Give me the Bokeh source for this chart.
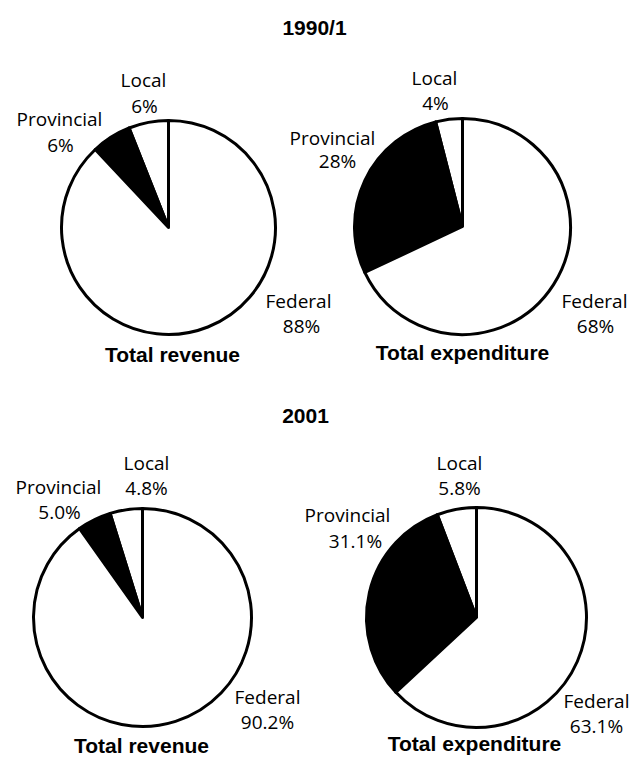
import math
from bokeh.plotting import figure
from bokeh.models import Range1d, ColumnDataSource
from bokeh.core.properties import value
from bokeh.embed import file_html
from bokeh.resources import INLINE

# ---- data ----
years = ["1990/1", "2001"]
measures = ["Total revenue", "Total expenditure"]
levels = ["Local", "Provincial", "Federal"]
rev_1990 = [6, 6, 88]
exp_1990 = [4, 28, 68]
rev_2001 = [4.8, 5.0, 90.2]
exp_2001 = [5.8, 31.1, 63.1]
decimals = [0, 1]          # label precision per year
fills = ["white", "black", "white"]

W, H = 634, 758
TXT_SHIFT = 8              # text renders slightly low; lift anchors
def Y(page_y):             # page pixel row -> data y (y up)
    return H - page_y
def YT(page_y):
    return H - (page_y - TXT_SHIFT)

p = figure(width=W, height=H, x_range=Range1d(0, W), y_range=Range1d(0, H),
           x_axis_type=None, y_axis_type=None, toolbar_location=None,
           output_backend="svg", min_border=0)
p.grid.visible = False
p.outline_line_color = None
p.background_fill_color = "white"

# layout: pie centre, radius, label anchors (name baseline, pct baseline), title
panels = [
    dict(vals=rev_1990, yi=0, mi=0, c=(168, 227), r=107,
         lab=[((143, 87), (144, 113)), ((59, 126), (60, 152)), ((298, 308), (301, 333))],
         t=(172, 362)),
    dict(vals=exp_1990, yi=0, mi=1, c=(462, 226), r=108,
         lab=[((434, 85), (435, 110)), ((332, 145), (337, 168)), ((594, 308), (595, 333))],
         t=(462, 360)),
    dict(vals=rev_2001, yi=1, mi=0, c=(142, 617), r=109,
         lab=[((146, 470), (146, 495)), ((58, 494), (59, 519)), ((267, 704), (267, 729))],
         t=(141, 753)),
    dict(vals=exp_2001, yi=1, mi=1, c=(476, 617), r=110,
         lab=[((459, 470), (459, 495)), ((347, 522), (355, 548)), ((596, 708), (596, 733))],
         t=(474, 751)),
]
headers = [(314, 35), (305, 423)]

label_font = value("Open Sans")
bold_font = value("Liberation Sans")

for pn in panels:
    vals = pn["vals"]
    total = sum(vals)
    cx, cy = pn["c"]
    starts, ends = [], []
    a = math.pi / 2
    for v in vals:
        starts.append(a)
        a = a + 2 * math.pi * v / total
        ends.append(a)
    src = ColumnDataSource(dict(x=[cx] * 3, y=[Y(cy)] * 3, start=starts, end=ends,
                                fill=fills, name=levels))
    p.wedge(x="x", y="y", radius=pn["r"], start_angle="start", end_angle="end",
            fill_color="fill", line_color="black", line_width=3, line_join="round",
            direction="anticlock", source=src)
    # labels
    d = decimals[pn["yi"]]
    names_x = [l[0][0] for l in pn["lab"]]
    names_y = [YT(l[0][1]) for l in pn["lab"]]
    pct_x = [l[1][0] for l in pn["lab"]]
    pct_y = [YT(l[1][1]) for l in pn["lab"]]
    pct_txt = [f"{v:.{d}f}%" for v in vals]
    p.text(x=names_x, y=names_y, text=levels, text_font=label_font,
           text_font_size="19px", text_align="center", text_baseline="alphabetic",
           text_color="black")
    p.text(x=pct_x, y=pct_y, text=pct_txt, text_font=label_font,
           text_font_size="19px", text_align="center", text_baseline="alphabetic",
           text_color="black")
    tx, ty = pn["t"]
    p.text(x=[tx], y=[YT(ty)], text=[measures[pn["mi"]]], text_font=bold_font,
           text_font_style="bold", text_font_size="21px", text_align="center",
           text_baseline="alphabetic", text_color="black")

p.text(x=[h[0] for h in headers], y=[YT(h[1]) for h in headers], text=years,
       text_font=bold_font, text_font_style="bold", text_font_size="21px",
       text_align="center", text_baseline="alphabetic", text_color="black")

open("out.html", "w").write(file_html(p, INLINE))
